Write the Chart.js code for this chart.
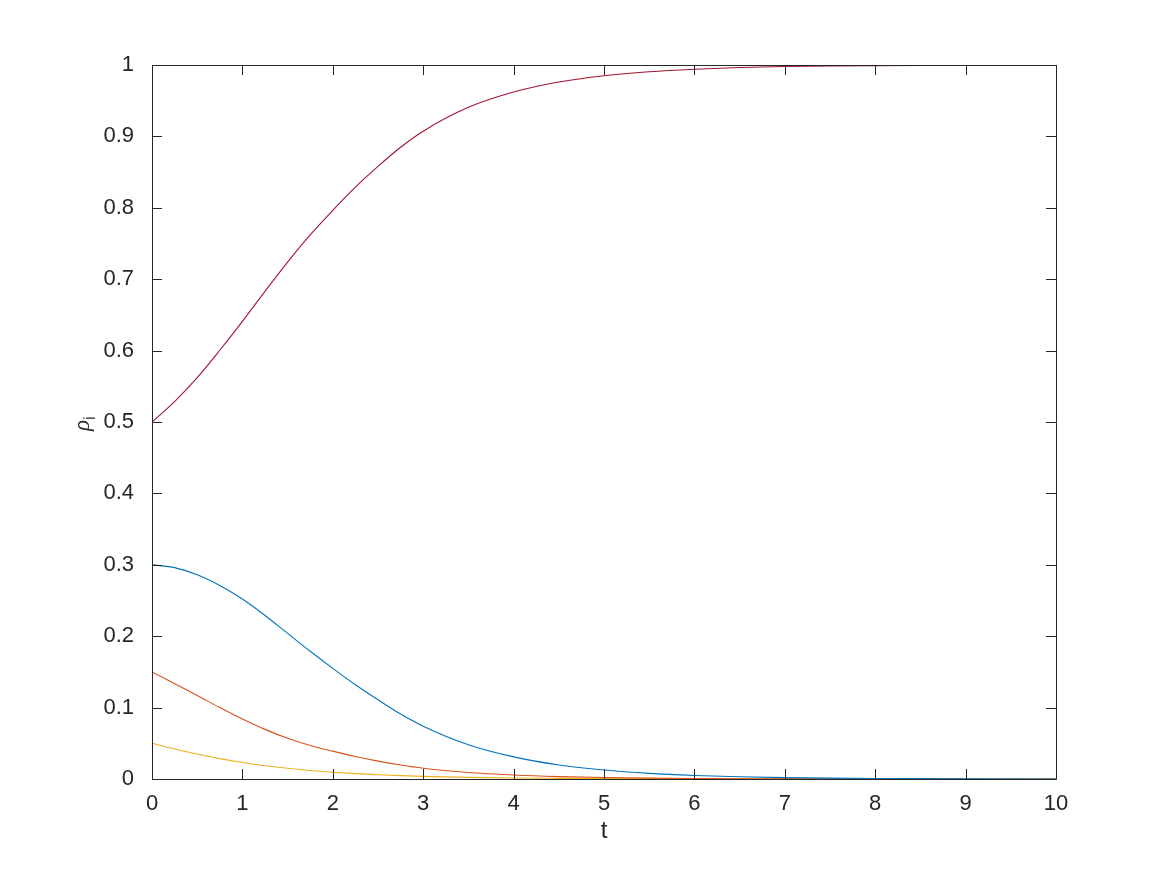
<!DOCTYPE html>
<html>
<head>
<meta charset="utf-8">
<script src="https://cdn.jsdelivr.net/npm/chart.js@4.4.1/dist/chart.umd.min.js"></script>
<style>
  html, body { margin: 0; padding: 0; background: #fff; }
  #wrap { width: 1167px; height: 875px; }
</style>
</head>
<body>
<div id="wrap"><canvas id="grafica" width="1167" height="875"></canvas></div>
<script>
// tiempos y valores
var tiempos = [0, 0.25, 0.5, 0.75, 1, 1.25, 1.5, 1.75, 2, 2.25, 2.5, 2.75, 3, 3.5, 4, 4.5, 5, 5.5, 6, 6.5, 7, 7.5, 8, 9, 10];
var rho1 = [0.300, 0.296, 0.286, 0.271, 0.252, 0.229, 0.204, 0.179, 0.155, 0.132, 0.111, 0.091, 0.074, 0.048, 0.031, 0.0197, 0.0125, 0.0079, 0.005, 0.0031, 0.0019, 0.0012, 0.0008, 0.0003, 0.0001];
var rho2 = [0.150, 0.1335, 0.117, 0.100, 0.084, 0.0695, 0.057, 0.047, 0.039, 0.0315, 0.025, 0.0195, 0.015, 0.009, 0.0055, 0.0033, 0.002, 0.0012, 0.0007, 0.0004, 0.00025, 0.00015, 0.0001, 0.00003, 0.0];
var rho3 = [0.050, 0.042, 0.035, 0.0285, 0.023, 0.0185, 0.015, 0.012, 0.0095, 0.0075, 0.006, 0.0047, 0.0037, 0.0023, 0.0014, 0.0009, 0.0005, 0.0003, 0.0002, 0.0001, 0.00006, 0.00003, 0.00002, 0.0, 0.0];
var rho4 = [0.500, 0.5285, 0.562, 0.6005, 0.641, 0.683, 0.724, 0.762, 0.7965, 0.829, 0.858, 0.8848, 0.9073, 0.9407, 0.9621, 0.9761, 0.985, 0.9906, 0.9941, 0.9964, 0.9978, 0.9986, 0.9991, 0.9997, 0.9999];
var xTicks = [0, 1, 2, 3, 4, 5, 6, 7, 8, 9, 10];
var yTicks = [0, 0.1, 0.2, 0.3, 0.4, 0.5, 0.6, 0.7, 0.8, 0.9, 1];

var colores = ['#0072BD', '#D95319', '#EDB120', '#A2142F'];
var series = [rho1, rho2, rho3, rho4];
var tinta = '#262626';
var fuente = 'Liberation Sans, Arial, Helvetica, sans-serif';

function puntos(vals) {
    return tiempos.map(function (t, i) { return { x: t, y: vals[i] }; });
}

function etiqueta(v) {
    return String(Math.round(v * 10) / 10);
}

var cajaPlugin = {
    id: 'caja',
    afterDraw: function (chart) {
        var ctx = chart.ctx;
        var a = chart.chartArea;
        var sx = chart.scales.x, sy = chart.scales.y;
        var L = 10;
        ctx.save();
        ctx.strokeStyle = tinta;
        ctx.lineWidth = 1;
        ctx.beginPath();
        ctx.rect(Math.round(a.left) + 0.5, Math.round(a.top) + 0.5, Math.round(a.right - a.left), Math.round(a.bottom - a.top));
        xTicks.forEach(function (v) {
            var px = Math.round(sx.getPixelForValue(v)) + 0.5;
            ctx.moveTo(px, a.bottom); ctx.lineTo(px, a.bottom - L);
            ctx.moveTo(px, a.top); ctx.lineTo(px, a.top + L);
        });
        yTicks.forEach(function (v) {
            var py = Math.round(sy.getPixelForValue(v)) + 0.5;
            ctx.moveTo(a.left, py); ctx.lineTo(a.left + L, py);
            ctx.moveTo(a.right, py); ctx.lineTo(a.right - L, py);
        });
        ctx.stroke();

        // etiqueta del eje x
        ctx.fillStyle = tinta;
        ctx.font = '24px ' + fuente;
        ctx.textAlign = 'center';
        ctx.textBaseline = 'middle';
        ctx.fillText('t', (a.left + a.right) / 2, 831);

        // etiqueta del eje y: rho_i
        ctx.translate(89, (a.top + a.bottom) / 2);
        ctx.rotate(-Math.PI / 2);
        ctx.textBaseline = 'alphabetic';
        ctx.textAlign = 'left';
        ctx.font = 'italic 23px "Liberation Serif", "DejaVu Serif", serif';
        ctx.fillText('\u03C1', -9, 0);
        ctx.font = '17px ' + fuente;
        ctx.fillText('i', 2, 6);
        ctx.restore();
    }
};

var mychart = new Chart(document.getElementById('grafica'), {
    type: 'line',
    data: {
        datasets: series.map(function (s, i) {
            return {
                data: puntos(s),
                borderColor: colores[i],
                borderWidth: 1.1,
                pointRadius: 0,
                fill: false,
                cubicInterpolationMode: 'monotone'
            };
        })
    },
    options: {
        responsive: false,
        animation: false,
        layout: { padding: { top: 65, right: 111, left: 0, bottom: 0 } },
        plugins: { legend: { display: false }, tooltip: { enabled: false } },
        scales: {
            x: {
                type: 'linear', min: 0, max: 10,
                grid: { display: false },
                border: { display: false },
                afterBuildTicks: function (s) { s.ticks = xTicks.map(function (v) { return { value: v }; }); },
                afterFit: function (s) { s.height = 96; },
                ticks: { color: tinta, font: { family: fuente, size: 22 }, padding: 4, maxRotation: 0, callback: etiqueta }
            },
            y: {
                type: 'linear', min: 0, max: 1,
                grid: { display: false },
                border: { display: false },
                afterBuildTicks: function (s) { s.ticks = yTicks.map(function (v) { return { value: v }; }); },
                afterFit: function (s) { s.width = 152; },
                ticks: { color: tinta, font: { family: fuente, size: 22 }, padding: 10, callback: etiqueta }
            }
        }
    },
    plugins: [cajaPlugin]
});
</script>
</body>
</html>
